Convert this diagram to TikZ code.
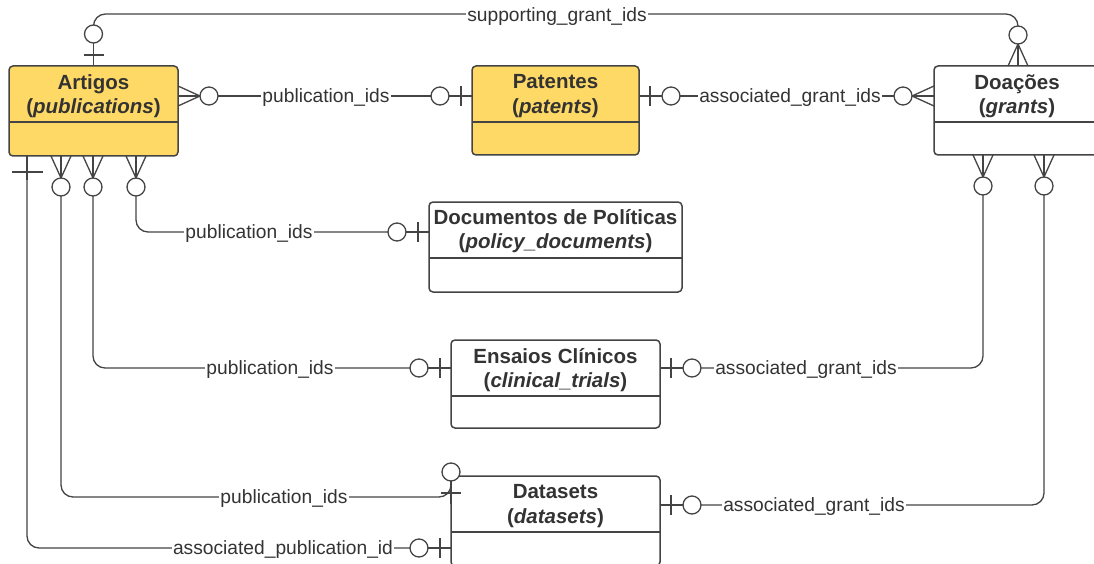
\documentclass[tikz,border=0pt]{standalone}
\usepackage{fontspec}
\setmainfont{Liberation Sans}
\definecolor{ylw}{HTML}{FFD966}
\definecolor{ink}{HTML}{444444}
\definecolor{txt}{HTML}{333333}
\tikzset{
  entity/.style={draw=ink, line width=1.5pt, rounded corners=4pt, rectangle,
                 inner sep=0pt, outer sep=0pt},
  divider/.style={draw=ink, line width=1.5pt},
  title/.style={align=center, text=txt, inner sep=0pt,
                font=\fontsize{20.5}{24.5}\selectfont\bfseries},
  conn/.style={draw=ink, line width=1.3pt, rounded corners=12pt},
  lbl/.style={fill=white, text=txt, inner sep=1pt,
              font=\fontsize{19.2}{22}\selectfont},
  % zero or many: crow's foot and circle, pointing along +x from the box edge
  zmany/.pic={
    \draw[conn, rounded corners=0pt] (0,-10) -- (22,0) -- (0,10);
    \draw[conn, rounded corners=0pt] (0,0) -- (22,0);
    \draw[conn, fill=white] (31,0) circle (9);
  },
  % zero or one: bar and circle
  zone/.pic={
    \draw[conn, rounded corners=0pt] (0,0) -- (23,0);
    \draw[conn, rounded corners=0pt] (11,-10) -- (11,10);
    \draw[conn, fill=white] (32,0) circle (9);
  },
  % exactly one: a single long bar
  justone/.pic={
    \draw[conn, rounded corners=0pt] (0,0) -- (24,0);
    \draw[conn, rounded corners=0pt] (16,-15.5) -- (16,15.5);
  },
}
\begin{document}
\begin{tikzpicture}[x=1pt, y=-1pt]
\useasboundingbox (0,0) rectangle (1094,564);

% entities
\node[entity, fill=ylw,   minimum width=169pt, minimum height=90pt] (art) at (93.5,111) {};
\node[entity, fill=ylw,   minimum width=167pt, minimum height=89pt] (pat) at (555.5,110.5) {};
\node[entity, fill=white, minimum width=166pt, minimum height=89pt] (grn) at (1017,110.5) {};
\node[entity, fill=white, minimum width=253pt, minimum height=90pt] (pol) at (555.5,247) {};
\node[entity, fill=white, minimum width=209pt, minimum height=88pt] (cli) at (555.5,384) {};
\node[entity, fill=white, minimum width=209pt, minimum height=90pt] (dat) at (555.5,521) {};

\foreach \e in {art,pat,grn,pol,cli,dat}
  \draw[divider] ([yshift=-56pt]\e.north west) -- ([yshift=-56pt]\e.north east);

\node[title] (art-t) at ([yshift=-30pt]art.north) {Artigos\\(\textit{publications})};
\node[title] (pat-t) at ([yshift=-30pt]pat.north) {Patentes\\(\textit{patents})};
\node[title] (grn-t) at ([yshift=-30pt]grn.north) {Doações\\(\textit{grants})};
\node[title] (pol-t) at ([yshift=-29pt]pol.north) {Documentos de Políticas\\(\textit{policy\_documents})};
\node[title] (cli-t) at ([yshift=-30pt]cli.north) {Ensaios Clínicos\\(\textit{clinical\_trials})};
\node[title] (dat-t) at ([yshift=-30pt]dat.north) {Datasets\\(\textit{datasets})};

% connectors
\draw[conn] ([yshift=32pt]art.north) -- ++(0,-20) -| ([xshift=1pt,yshift=31pt]grn.north);
\draw[conn] ([yshift=15pt]art.east) -- ([yshift=14.5pt]pat.west);
\draw[conn] ([yshift=14.5pt]pat.east) -- ([yshift=14.5pt]grn.west);
\draw[conn] ([xshift=127pt,yshift=-31pt]art.south west) |- ([yshift=15pt]pol.west);
\draw[conn] ([xshift=84pt,yshift=-31pt]art.south west) |- ([yshift=16pt]cli.west);
\draw[conn] ([yshift=16pt]cli.east) -| ([xshift=49pt,yshift=-31pt]grn.south west);
\draw[conn] ([xshift=52pt,yshift=-31pt]art.south west) |- ([yshift=24pt]dat.west) -- ([yshift=48pt]dat.west);
\draw[conn] ([xshift=18pt]art.south west) |- ([yshift=-27pt]dat.west);
\draw[conn] ([yshift=16pt]dat.east) -| ([xshift=110pt,yshift=-31pt]grn.south west);

% end markers
\pic[rotate=90]  at (art.north) {zone};
\pic             at ([yshift=15pt]art.east) {zmany};
\pic[rotate=-90] at ([xshift=18pt]art.south west) {justone};
\pic[rotate=-90] at ([xshift=52pt]art.south west) {zmany};
\pic[rotate=-90] at ([xshift=84pt]art.south west) {zmany};
\pic[rotate=-90] at ([xshift=127pt]art.south west) {zmany};
\pic[rotate=180] at ([yshift=14.5pt]pat.west) {zone};
\pic             at ([yshift=14.5pt]pat.east) {zone};
\pic[rotate=180] at ([yshift=14.5pt]grn.west) {zmany};
\pic[rotate=90]  at ([xshift=1pt]grn.north) {zmany};
\pic[rotate=-90] at ([xshift=49pt]grn.south west) {zmany};
\pic[rotate=-90] at ([xshift=110pt]grn.south west) {zmany};
\pic[rotate=180] at ([yshift=15pt]pol.west) {zone};
\pic[rotate=180] at ([yshift=16pt]cli.west) {zone};
\pic             at ([yshift=16pt]cli.east) {zone};
\pic[rotate=90]  at ([yshift=17pt]dat.west) {zone};
\pic[rotate=180] at ([yshift=-27pt]dat.west) {zone};
\pic             at ([yshift=16pt]dat.east) {zone};

% connector labels
\node[lbl] (l1) at (557,17)  {supporting\_grant\_ids};
\node[lbl] (l2) at (326,98)  {publication\_ids};
\node[lbl] (l3) at (790,98)  {associated\_grant\_ids};
\node[lbl] (l4) at (249,234) {publication\_ids};
\node[lbl] (l5) at (270,370) {publication\_ids};
\node[lbl] (l6) at (806,370) {associated\_grant\_ids};
\node[lbl] (l7) at (284,499) {publication\_ids};
\node[lbl] (l8) at (283,550) {associated\_publication\_id};
\node[lbl] (l9) at (814,507) {associated\_grant\_ids};
\end{tikzpicture}
\end{document}
